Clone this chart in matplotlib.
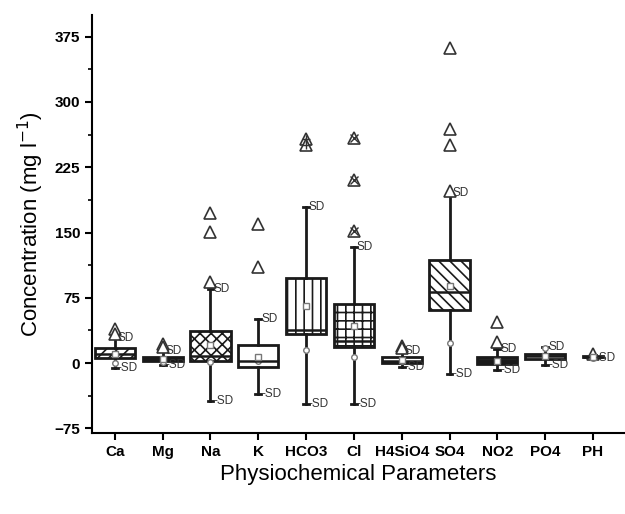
import matplotlib
matplotlib.use('Agg')
import matplotlib.pyplot as plt

plt.rcParams['font.family'] = ['Liberation Sans', 'DejaVu Sans']
plt.rcParams['hatch.linewidth'] = 1.2

# parameters and box statistics (mg/l)
names = ['Ca', 'Mg', 'Na', 'K', 'HCO3', 'Cl', 'H4SiO4', 'SO4', 'NO2', 'PO4', 'PH']
q1 = [6, 2, 2, -4, 34, 18, 0, 61, -1, 5, 6.5]
q3 = [17, 7, 37, 21, 98, 68, 7, 119, 7, 11, 8]
med = [11, 4, 8, 2, 38, 25, 3, 82, 3, 8, 7.5]
mean = [10, 5, 21, 7, 66, 43, 4, 89, 3, 8, 7]
sd_hi = [29, 14, 85, 51, 179, 133, 14, 195, 16, 19, 9]
sd_lo = [-6, -2, -43, -35, -47, -47, -5, -12, -8, -2, 6]
mins = [0, 1, 1, 2, 15, 7, 2, 23, 2, 17, 6]
outliers = [[39, 34], [22, 18], [172, 151, 93], [160, 110], [257, 251],
            [259, 210, 152], [20, 17], [362, 269, 250, 198], [47, 24], [], [10]]
hatches = ['///', '--', 'xxx', '', '||', '++', '--', '\\\\\\', '--', '', '']
fills = ['white', '#222222', 'white', 'white', 'white', 'white', 'white',
         'white', '#222222', 'white', 'white']

stats = []
for i, n in enumerate(names):
    stats.append({'label': n, 'med': med[i], 'q1': q1[i], 'q3': q3[i],
                  'whislo': sd_lo[i], 'whishi': sd_hi[i],
                  'mean': mean[i], 'fliers': outliers[i]})

fig = plt.figure(figsize=(6.25, 5.14), dpi=100)
ax = fig.add_axes([0.147, 0.158, 0.853, 0.813])

pos = list(range(1, len(names) + 1))
widths = [0.84] * 10 + [0.4]
bp = ax.bxp(stats, positions=pos, widths=widths, patch_artist=True,
            showmeans=True, showfliers=True,
            boxprops=dict(facecolor='white', edgecolor='#1a1a1a', linewidth=2),
            medianprops=dict(color='#1a1a1a', linewidth=1.8),
            whiskerprops=dict(color='#1a1a1a', linewidth=2),
            capprops=dict(color='#1a1a1a', linewidth=2),
            meanprops=dict(marker='s', markersize=4, markerfacecolor='white',
                           markeredgecolor='#777777'),
            flierprops=dict(marker='^', markersize=8, markerfacecolor='white',
                            markeredgecolor='#333333', markeredgewidth=1.2))
for b, h, f in zip(bp['boxes'], hatches, fills):
    b.set_facecolor(f)
    b.set_hatch(h)
for c in bp['caps']:
    x0, x1 = c.get_xdata()
    xm = (x0 + x1) / 2
    c.set_xdata([xm - 0.06, xm + 0.06])

# extra markers on HCO3 and Cl outliers
ax.plot([5] * 2, outliers[4], ls='none', marker='+', ms=6, color='#333333')
ax.plot([6] * 3, outliers[5], ls='none', marker='x', ms=6, color='#333333')

# minimum values as small circles
ax.plot(pos, mins, ls='none', marker='o', ms=4, mfc='white', mec='#777777')

# SD labels (PH upper label hidden under the lower one in the original)
for i in range(len(names)):
    if names[i] != 'PH':
        ax.text(pos[i] + 0.06, sd_hi[i], 'SD', fontsize=8.5, color='#333333',
                va='center', ha='left', clip_on=False)
    ax.text(pos[i] + 0.06, sd_lo[i], '-SD', fontsize=8.5, color='#333333',
            va='center', ha='left', clip_on=False)

ax.set_xlim(0.52, 11.67)
ax.set_ylim(-80, 400)
ax.set_yticks([-75, 0, 75, 150, 225, 300, 375])
ax.set_yticks([-37.5, 37.5, 112.5, 187.5, 262.5, 337.5], minor=True)
ax.set_xticks(pos)
ax.set_xticklabels(names, fontsize=11, fontweight='bold')
for t in ax.get_yticklabels():
    t.set_fontsize(11)
    t.set_fontweight('bold')
ax.tick_params(axis='both', which='major', length=5, width=1.5, direction='out')
ax.tick_params(axis='y', which='minor', length=3, width=1.2, direction='out')
ax.spines['top'].set_visible(False)
ax.spines['right'].set_visible(False)
ax.spines['left'].set_linewidth(1.5)
ax.spines['bottom'].set_linewidth(1.5)

ax.set_ylabel('Concentration (mg l$^{-1}$)', fontsize=16, labelpad=6)
ax.set_xlabel('Physiochemical Parameters', fontsize=16, labelpad=4)

plt.savefig('out.png', dpi=100)
